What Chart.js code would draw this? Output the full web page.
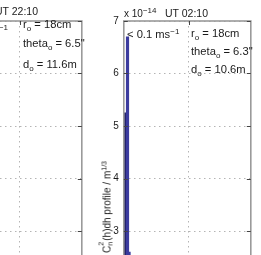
<!DOCTYPE html>
<html>
<head>
<meta charset="utf-8">
<script src="https://cdn.jsdelivr.net/npm/chart.js@4.4.1/dist/chart.umd.min.js"></script>
<style>
html,body{margin:0;padding:0;background:#fff;}
#wrap{position:relative;width:261px;height:255px;overflow:hidden;background:#fff;
  font-family:"Liberation Sans",Arial,Helvetica,sans-serif;color:#1a1a1a;}
canvas{position:absolute;}
#cLeft{left:-79px;top:0;}
#cRight{left:90px;top:0;}
.t{position:absolute;white-space:nowrap;font-size:11.2px;line-height:14px;z-index:2;}
.t sub{font-size:8px;vertical-align:-3px;line-height:0;}
.t sup{font-size:8px;vertical-align:4px;line-height:0;}
.ttl{font-size:10.5px;line-height:13px;}
#ylab{position:absolute;left:107px;top:207px;transform:translate(-50%,-50%) rotate(-90deg);
  font-size:10px;line-height:12px;white-space:nowrap;z-index:2;}
.ss{display:inline-block;position:relative;width:5px;height:10px;}
.ss .sp{position:absolute;left:0;top:-5px;font-size:7px;}
.ss .sb{position:absolute;left:0;top:4px;font-size:7px;}
#ylab sup{font-size:7px;vertical-align:4px;line-height:0;}
</style>
</head>
<body>
<div id="wrap">
  <canvas id="cLeft" width="171" height="300"></canvas>
  <canvas id="cRight" width="171" height="300"></canvas>

  <!-- left panel (mostly cut off) -->
  <div class="t ttl" style="left:-5px;top:4.5px">UT 22:10</div>
  <div class="t" style="right:253px;top:23px">&lt; 0.1 ms<sup>−1</sup></div>
  <div class="t" style="left:23px;top:17px">r<sub>o</sub> = 18cm</div>
  <div class="t" style="left:23px;top:35.5px">theta<sub>o</sub> = 6.5"</div>
  <div class="t" style="left:23px;top:57px">d<sub>o</sub> = 11.6m</div>

  <!-- right panel -->
  <div class="t ttl" style="left:124px;top:6.5px;font-size:10px">x 10<sup>−14</sup></div>
  <div class="t ttl" style="left:165px;top:6.5px">UT 02:10</div>
  <div class="t" style="left:127px;top:26.5px">&lt; 0.1 ms<sup>−1</sup></div>
  <div class="t" style="left:191px;top:26px">r<sub>o</sub> = 18cm</div>
  <div class="t" style="left:191px;top:44px">theta<sub>o</sub> = 6.3"</div>
  <div class="t" style="left:191px;top:62px">d<sub>o</sub> = 10.6m</div>
  <div id="ylab">C<span class="ss"><span class="sp">2</span><span class="sb">n</span></span>(h)dh profile / m<sup>1/3</sup></div>
</div>
<script>
// profile values, units of 1e-14 m^1/3
const rightAlt = [-0.45, -0.2, 0.1, 0.35];
const rightVal = [2.8, 5.25, 6.7, 2.6];
const rightCol = ["#22226a", "#22226a", "#3b3b9e", "#3b3b9e"];
const leftAlt = [];
const leftVal = [];
const yTicks = [2, 3, 4, 5, 6, 7];
const xGridAt = [10];

Chart.defaults.font.family = '"Liberation Sans", Arial, Helvetica, sans-serif';

const framePlugin = {
  id: "frame",
  afterDatasetsDraw(chart) {
    const ctx = chart.ctx, a = chart.chartArea, sy = chart.scales.y, sx = chart.scales.x;
    ctx.save();
    ctx.strokeStyle = "#9a9a9a";
    ctx.lineWidth = 1.6;
    ctx.strokeRect(a.left, a.top, a.right - a.left, a.bottom - a.top);
    ctx.strokeStyle = "#444";
    ctx.lineWidth = 1;
    sy.ticks.forEach(t => {
      const y = Math.round(sy.getPixelForValue(t.value)) + 0.5;
      ctx.beginPath();
      ctx.moveTo(a.left, y); ctx.lineTo(a.left + 4, y);
      ctx.moveTo(a.right, y); ctx.lineTo(a.right - 4, y);
      ctx.stroke();
    });
    sx.ticks.forEach(t => {
      const x = Math.round(sx.getPixelForValue(t.value)) + 0.5;
      ctx.beginPath();
      ctx.moveTo(x, a.top); ctx.lineTo(x, a.top + 4);
      ctx.moveTo(x, a.bottom); ctx.lineTo(x, a.bottom - 4);
      ctx.stroke();
    });
    ctx.restore();
  }
};

function makeChart(id, alt, val, col) {
  return new Chart(document.getElementById(id), {
    type: "bar",
    data: {
      datasets: [{
        data: alt.map((h, i) => ({x: h, y: val[i]})),
        backgroundColor: col,
        borderWidth: 0,
        barThickness: 2.5,
        grouped: false
      }]
    },
    options: {
      responsive: false,
      devicePixelRatio: 1,
      animation: false,
      layout: {padding: {top: 21, right: 10.2, left: 0, bottom: 0}},
      plugins: {legend: {display: false}, tooltip: {enabled: false}},
      scales: {
        x: {
          type: "linear",
          min: -0.5, max: 20,
          offset: false,
          afterBuildTicks(s) { s.ticks = xGridAt.map(v => ({value: v})); },
          afterFit(s) { s.height = 16.5; },
          ticks: {display: false},
          grid: {offset: false, color: "#b4b4b4", lineWidth: 1, drawTicks: false},
          border: {display: false, dash: [1.5, 3.5]}
        },
        y: {
          min: 2, max: 7,
          afterBuildTicks(s) { s.ticks = yTicks.map(v => ({value: v})); },
          afterFit(s) { s.width = 33.8; },
          ticks: {color: "#1a1a1a", font: {size: 10}, padding: 5},
          grid: {color: "#b4b4b4", lineWidth: 1, drawTicks: false},
          border: {display: false, dash: [1.5, 3.5]}
        }
      }
    },
    plugins: [framePlugin]
  });
}

makeChart("cLeft", leftAlt, leftVal, []);
makeChart("cRight", rightAlt, rightVal, rightCol);
</script>
</body>
</html>
